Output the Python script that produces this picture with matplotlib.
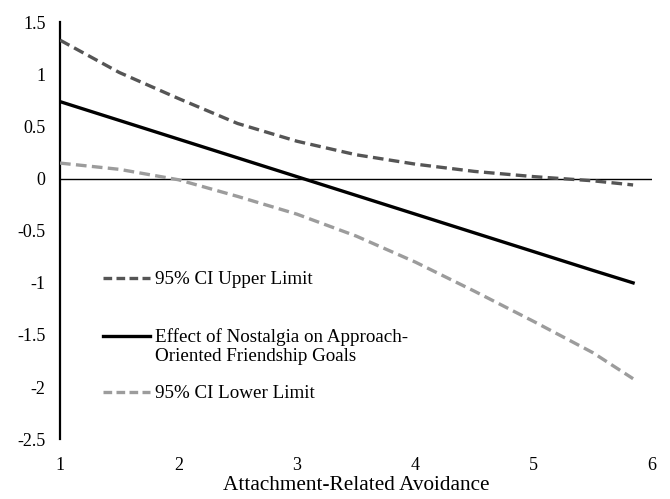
import numpy as np
import matplotlib
matplotlib.use('Agg')
import matplotlib.pyplot as plt

plt.rcParams['font.family'] = ['Liberation Serif', 'DejaVu Serif']

# values
avoidance = [1.0, 1.5, 2.0, 2.5, 3.0, 3.5, 4.0, 4.5, 5.0, 5.5, 5.84]
effect = [0.74, 0.56, 0.38, 0.20, 0.02, -0.16, -0.34, -0.52, -0.70, -0.88, -1.00]
ci_upper = [1.33, 1.02, 0.77, 0.53, 0.36, 0.23, 0.14, 0.07, 0.02, -0.02, -0.06]
ci_lower = [0.15, 0.09, -0.01, -0.17, -0.34, -0.55, -0.80, -1.08, -1.37, -1.67, -1.92]

x_ticks = [1, 2, 3, 4, 5, 6]
y_ticks = [-2.5, -2, -1.5, -1, -0.5, 0, 0.5, 1, 1.5]
y_labels = ['-2.5', '-2', '-1.5', '-1', '-0.5', '0', '0.5', '1', '1.5']

upper_col = '#555555'
lower_col = '#9c9c9c'

fig = plt.figure(figsize=(6.7, 4.99), dpi=100)
ax = fig.add_axes([0.0896, 0.120, 0.8836, 0.835])

ax.axhline(0, color='black', lw=1.0, zorder=1)
ax.plot(avoidance, ci_upper, color=upper_col, lw=2.4, dashes=(3.2, 1.6), zorder=3)
ax.plot(avoidance, effect, color='black', lw=2.4, zorder=3)
ax.plot(avoidance, ci_lower, color=lower_col, lw=2.4, dashes=(3.2, 1.6), zorder=3)

ax.set_xlim(1, 6)
ax.set_ylim(-2.5, 1.5)
ax.set_xticks(x_ticks)
ax.set_yticks(y_ticks)
ax.set_yticklabels(y_labels)
ax.tick_params(length=0, labelsize=13)
ax.tick_params(axis='x', pad=13)
ax.tick_params(axis='y', pad=10.5)
for s in ['top', 'right', 'bottom']:
    ax.spines[s].set_visible(False)
ax.spines['left'].set_linewidth(1.6)
ax.set_xlabel('Attachment-Related Avoidance', fontsize=15.3, labelpad=1)

# legend drawn by hand to keep the uneven row spacing of the original
rows = [(0.3866, upper_col, (2.6, 1.3), '95% CI Upper Limit'),
        (0.2473, 'black', None, 'Effect of Nostalgia on Approach-\nOriented Friendship Goals'),
        (0.1128, lower_col, (2.6, 1.3), '95% CI Lower Limit')]
for y, col, dash, lab in rows:
    ln, = ax.plot([0.0726, 0.152], [y, y], color=col, lw=2.4, transform=ax.transAxes, clip_on=False)
    if dash:
        ln.set_dashes(dash)
    ax.text(0.160, y + 0.018, lab, transform=ax.transAxes, fontsize=13.7,
            va='top', ha='left', linespacing=1.15)

fig.savefig('out.png', dpi=100)
